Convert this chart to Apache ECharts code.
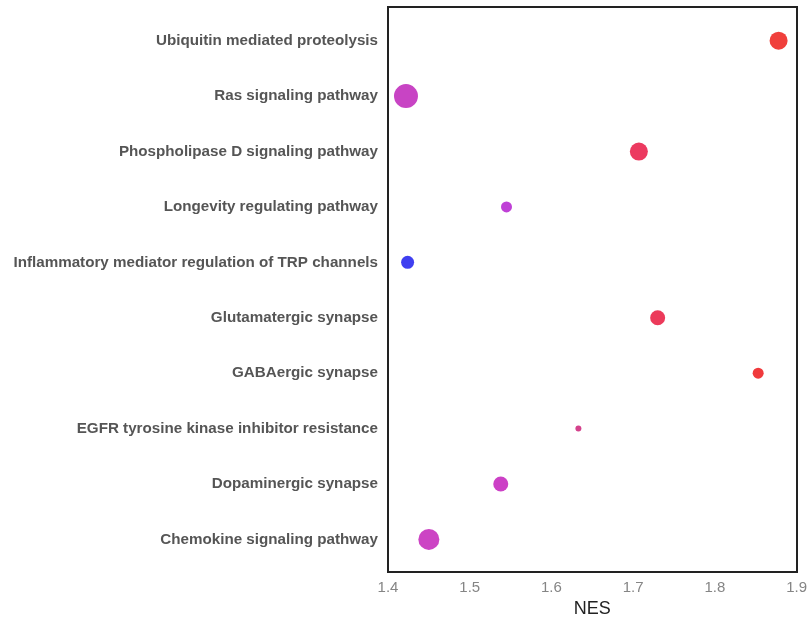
<!DOCTYPE html>
<html>
<head>
<meta charset="utf-8">
<script src="https://cdn.jsdelivr.net/npm/echarts@6/dist/echarts.min.js"></script>
<style>html,body{margin:0;padding:0;background:#fff;overflow:hidden;}#chart{width:810px;height:623px;}</style>
</head>
<body>
<div id="chart"></div>
<script>
var categories = [
  "Ubiquitin mediated proteolysis",
  "Ras signaling pathway",
  "Phospholipase D signaling pathway",
  "Longevity regulating pathway",
  "Inflammatory mediator regulation of TRP channels",
  "Glutamatergic synapse",
  "GABAergic synapse",
  "EGFR tyrosine kinase inhibitor resistance",
  "Dopaminergic synapse",
  "Chemokine signaling pathway"
];
var nesValues = [1.878, 1.422, 1.707, 1.545, 1.424, 1.730, 1.853, 1.633, 1.538, 1.450];
var dotSizes = [18, 24, 18, 11, 13, 15, 11, 6, 15, 21];
var dotColors = ["#f0403c", "#c844c4", "#ec3a60", "#bf40d6", "#3f3ff0", "#ec3a5a", "#f03a3c", "#d4428c", "#cc40c6", "#cc44c4"];
var xTicks = [1.4, 1.5, 1.6, 1.7, 1.8, 1.9];

var chart = echarts.init(document.getElementById('chart'));
var data = categories.map(function (c, i) {
  return { value: [nesValues[i], c], symbolSize: dotSizes[i], itemStyle: { color: dotColors[i] } };
});
chart.setOption({
  backgroundColor: '#fff',
  animation: false,
  grid: { left: 388, width: 409, top: 13, height: 556.7, containLabel: false },
  xAxis: {
    type: 'value', min: 1.4, max: 1.9, interval: 0.1,
    name: 'NES', nameLocation: 'middle', nameGap: 29,
    nameTextStyle: { fontSize: 18, color: '#222', fontFamily: 'Liberation Sans, Arial, sans-serif' },
    axisLine: { show: false }, axisTick: { show: false }, splitLine: { show: false },
    axisLabel: { margin: 13, fontSize: 15, color: '#858585', fontFamily: 'Liberation Sans, Arial, sans-serif',
      formatter: function (v) { var t = xTicks.find(function (x) { return Math.abs(x - v) < 1e-6; }); return t !== undefined ? t.toString() : ''; } }
  },
  yAxis: {
    type: 'category', data: categories, inverse: true,
    axisLine: { show: false }, axisTick: { show: false }, splitLine: { show: false },
    axisLabel: { margin: 10, fontSize: 15.2, fontWeight: 'bold', color: '#555555', fontFamily: 'Liberation Sans, Arial, sans-serif' }
  },
  graphic: [{
    type: 'rect', shape: { x: 388, y: 7, width: 409, height: 565 },
    style: { fill: 'none', stroke: '#222', lineWidth: 2 }, silent: true, z: 0
  }],
  series: [{
    type: 'scatter', data: data, z: 5,
    itemStyle: { opacity: 1 }
  }]
});
</script>
</body>
</html>
